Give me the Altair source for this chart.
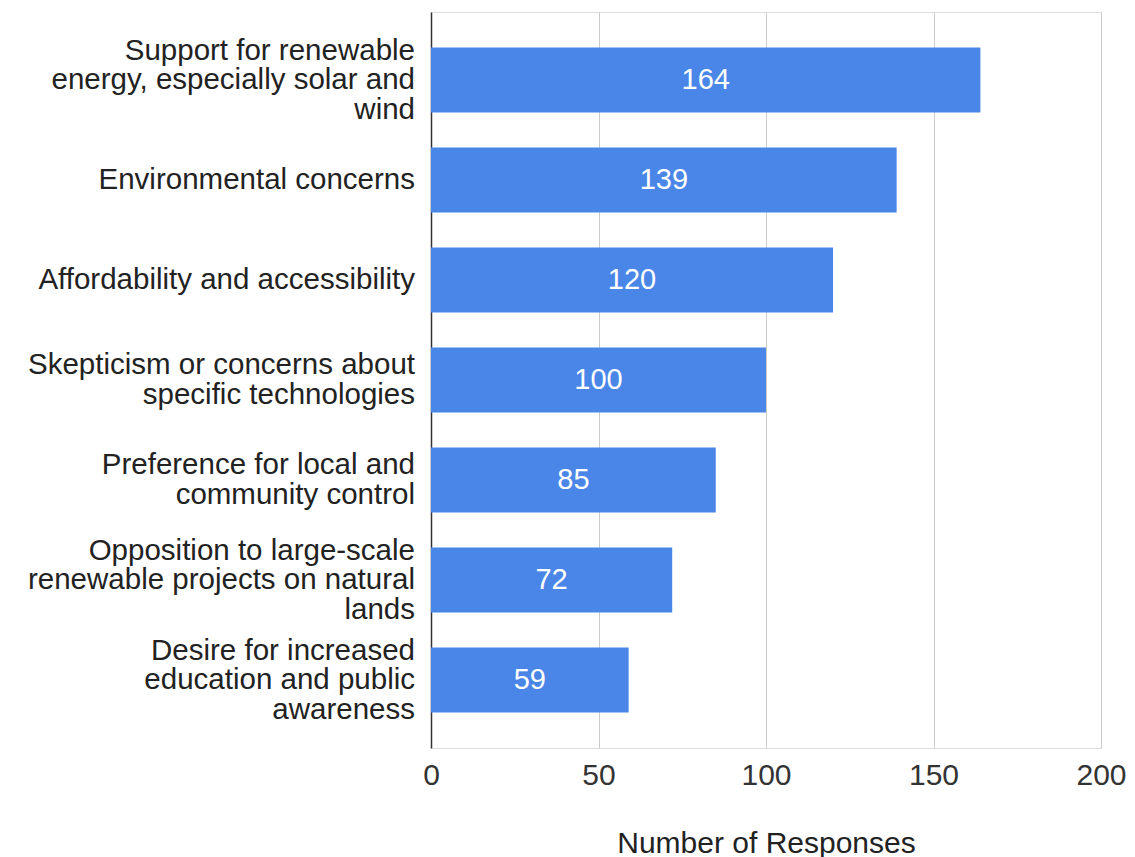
import altair as alt
import pandas as pd

categories = [
    "Support for renewable\nenergy, especially solar and\nwind",
    "Environmental concerns",
    "Affordability and accessibility",
    "Skepticism or concerns about\nspecific technologies",
    "Preference for local and\ncommunity control",
    "Opposition to large-scale\nrenewable projects on natural\nlands",
    "Desire for increased\neducation and public\nawareness",
]
values = [164, 139, 120, 100, 85, 72, 59]
x_ticks = [0, 50, 100, 150, 200]

df = pd.DataFrame({"category": categories, "value": values})

FONT = "Liberation Sans"
LINE_H = 29.5
HALF_BAND = 32.5

y_enc = alt.Y(
    "category:N",
    sort=None,
    scale=alt.Scale(paddingInner=0.35, paddingOuter=0.355),
    axis=alt.Axis(labels=False, ticks=False, title=None, domain=True,
                  domainColor="#333333", domainWidth=1.5, grid=False),
)

x_enc = alt.X(
    "value:Q",
    scale=alt.Scale(domain=[0, 200], nice=False),
    axis=alt.Axis(values=x_ticks, title="Number of Responses", grid=True,
                  gridColor="#cccccc", gridWidth=1, domain=False, ticks=False,
                  labelFontSize=30, labelFont=FONT, labelColor="#333333",
                  labelFlush=False, labelPadding=12,
                  titleFontSize=30, titleFont=FONT,
                  titleFontWeight="normal", titleColor="#222222",
                  titlePadding=38),
)

bars = alt.Chart(df).mark_bar(color="#4a86e8").encode(x=x_enc, y=y_enc)

vals = alt.Chart(df).transform_calculate(mid="datum.value / 2").mark_text(
    color="white", fontSize=29, font=FONT, align="center", baseline="middle"
).encode(
    x=alt.X("mid:Q"),
    y=alt.Y("category:N", sort=None),
    text=alt.Text("value:Q"),
)

labels = alt.Chart(df).transform_calculate(
    off=f"{HALF_BAND} - (length(split(datum.category, '\\n')) - 1) * {LINE_H} / 2"
).mark_text(
    color="#222222", fontSize=29.5, font=FONT, align="right", baseline="middle",
    lineBreak="\n", lineHeight=LINE_H, dx=-16
).encode(
    x=alt.value(0),
    y=alt.Y("category:N", sort=None),
    yOffset=alt.YOffset("off:Q", scale=None),
    text=alt.Text("category:N"),
)

chart = alt.layer(bars, vals, labels).properties(
    width=670, height=736,
    autosize=alt.AutoSizeParams(type="none"),
    padding={"left": 431, "top": 12, "right": 34, "bottom": 109},
).configure_view(stroke=None).configure(background="white")

chart.save("out.html", embed_options={"renderer": "svg", "actions": False})
